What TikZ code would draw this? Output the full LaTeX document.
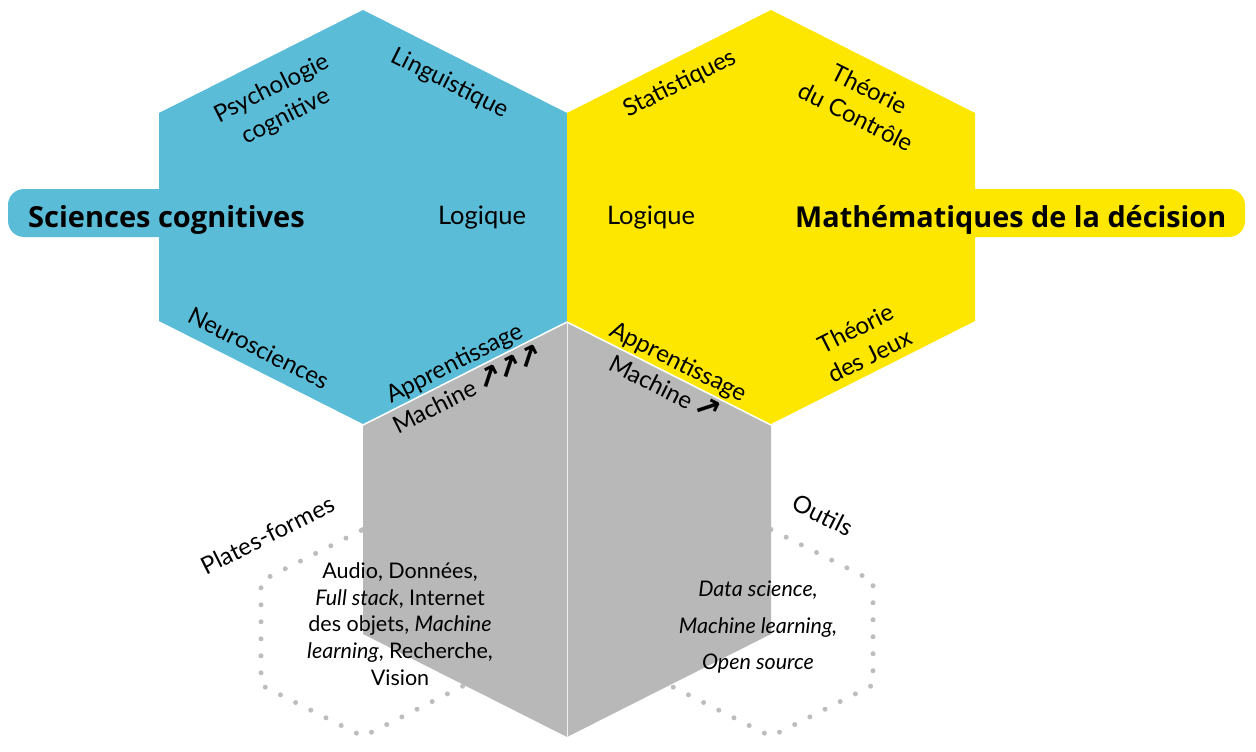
\documentclass[tikz,border=0pt]{standalone}
\usepackage{fontspec}
\setmainfont{Lato}
\newfontfamily\titlefont{Open Sans}
\newfontfamily\arrowfont{DejaVu Sans}
\definecolor{cogblue}{HTML}{5BBCD8}
\definecolor{decyellow}{HTML}{FDE600}
\definecolor{coregrey}{HTML}{B8B8B8}
\definecolor{dotgrey}{HTML}{BDBDBD}
\newcommand{\uparr}{{\arrowfont\bfseries\fontsize{31}{31}\selectfont ↗}}
\begin{document}
\begin{tikzpicture}[x=1pt,y=-1pt,
  hexpath/.style={insert path={(0,-207) -- (204,-104) -- (204,104) -- (0,207) -- (-204,104) -- (-204,-104) -- cycle}},
  dothex/.style={draw=dotgrey, line width=5pt, line cap=round, dash pattern=on 0pt off 17pt},
  lbl/.style={font=\fontsize{24}{31}\selectfont, align=center, inner sep=0pt},
  title/.style={font=\titlefont\bfseries\fontsize{29}{34}\selectfont, inner sep=0pt, anchor=base west},
  inlist/.style={font=\fontsize{21.5}{26.7}\selectfont, align=center, inner sep=0pt}]
\useasboundingbox (0,0) rectangle (1256,752);

% dotted half-size hexagons behind the core
\draw[dothex, shift={(363,633)}, scale=0.5, hexpath];
\draw[dothex, shift={(771,633)}, scale=0.5, hexpath];

% grey core hexagon with its thin divider
\fill[coregrey, shift={(567,530)}, hexpath];
\draw[white!80!coregrey, line width=1pt] (567,323) -- (567,737);

% title bars
\fill[cogblue, rounded corners=16pt] (8,189) rectangle (230,237);
\fill[decyellow, rounded corners=16pt] (930,189) rectangle (1245,237);

% the two upper hexagons
\fill[cogblue, shift={(363,217)}, hexpath];
\fill[decyellow, shift={(771,217)}, hexpath];

% titles
\node[title] (cog) at (28,227) {Sciences cognitives};
\node[title, font=\titlefont\bfseries\fontsize{28.8}{34}\selectfont] (dec) at (795,227) {Mathématiques de la décision};

% blue hexagon labels
\node[lbl, rotate=26.6] (psy) at (279,103) {Psychologie\\cognitive};
\node[lbl, rotate=-26.6] (ling) at (450,84) {Linguistique};
\node[lbl, font=\fontsize{25.5}{31}\selectfont] (logb) at (482,218) {Logique};
\node[lbl, rotate=-26.6] (neuro) at (259,348) {Neurosciences};
\node[lbl, rotate=26.6] (appb) at (461,376) {Apprentissage\\Machine\,\uparr\kern-4pt\uparr\kern-4pt\uparr};

% yellow hexagon labels
\node[lbl, rotate=26.6] (stat) at (680,84) {Statistiques};
\node[lbl, rotate=-26.6] (ctrl) at (863,103) {Théorie\\du Contrôle};
\node[lbl, font=\fontsize{25.5}{31}\selectfont] (logy) at (651,218) {Logique};
\node[lbl, rotate=26.6] (jeux) at (863,342) {Théorie\\des Jeux};
\node[lbl, rotate=-26.6] (appy) at (672,375) {Apprentissage\\Machine\,\uparr};

% lower labels
\node[lbl, rotate=26.6] (plat) at (268,535) {Plates-formes};
\node[lbl, rotate=-26.6] (outils) at (823,515) {Outils};

\node[inlist] (plist) at (400,624) {Audio, Données,\\\textit{Full stack}, Internet\\des objets, \textit{Machine}\\\textit{learning}, Recherche,\\Vision};
\node[inlist, font=\fontsize{21.5}{36.5}\selectfont\itshape] (olist) at (758,627) {Data science,\\Machine learning,\\Open source};
\end{tikzpicture}
\end{document}
